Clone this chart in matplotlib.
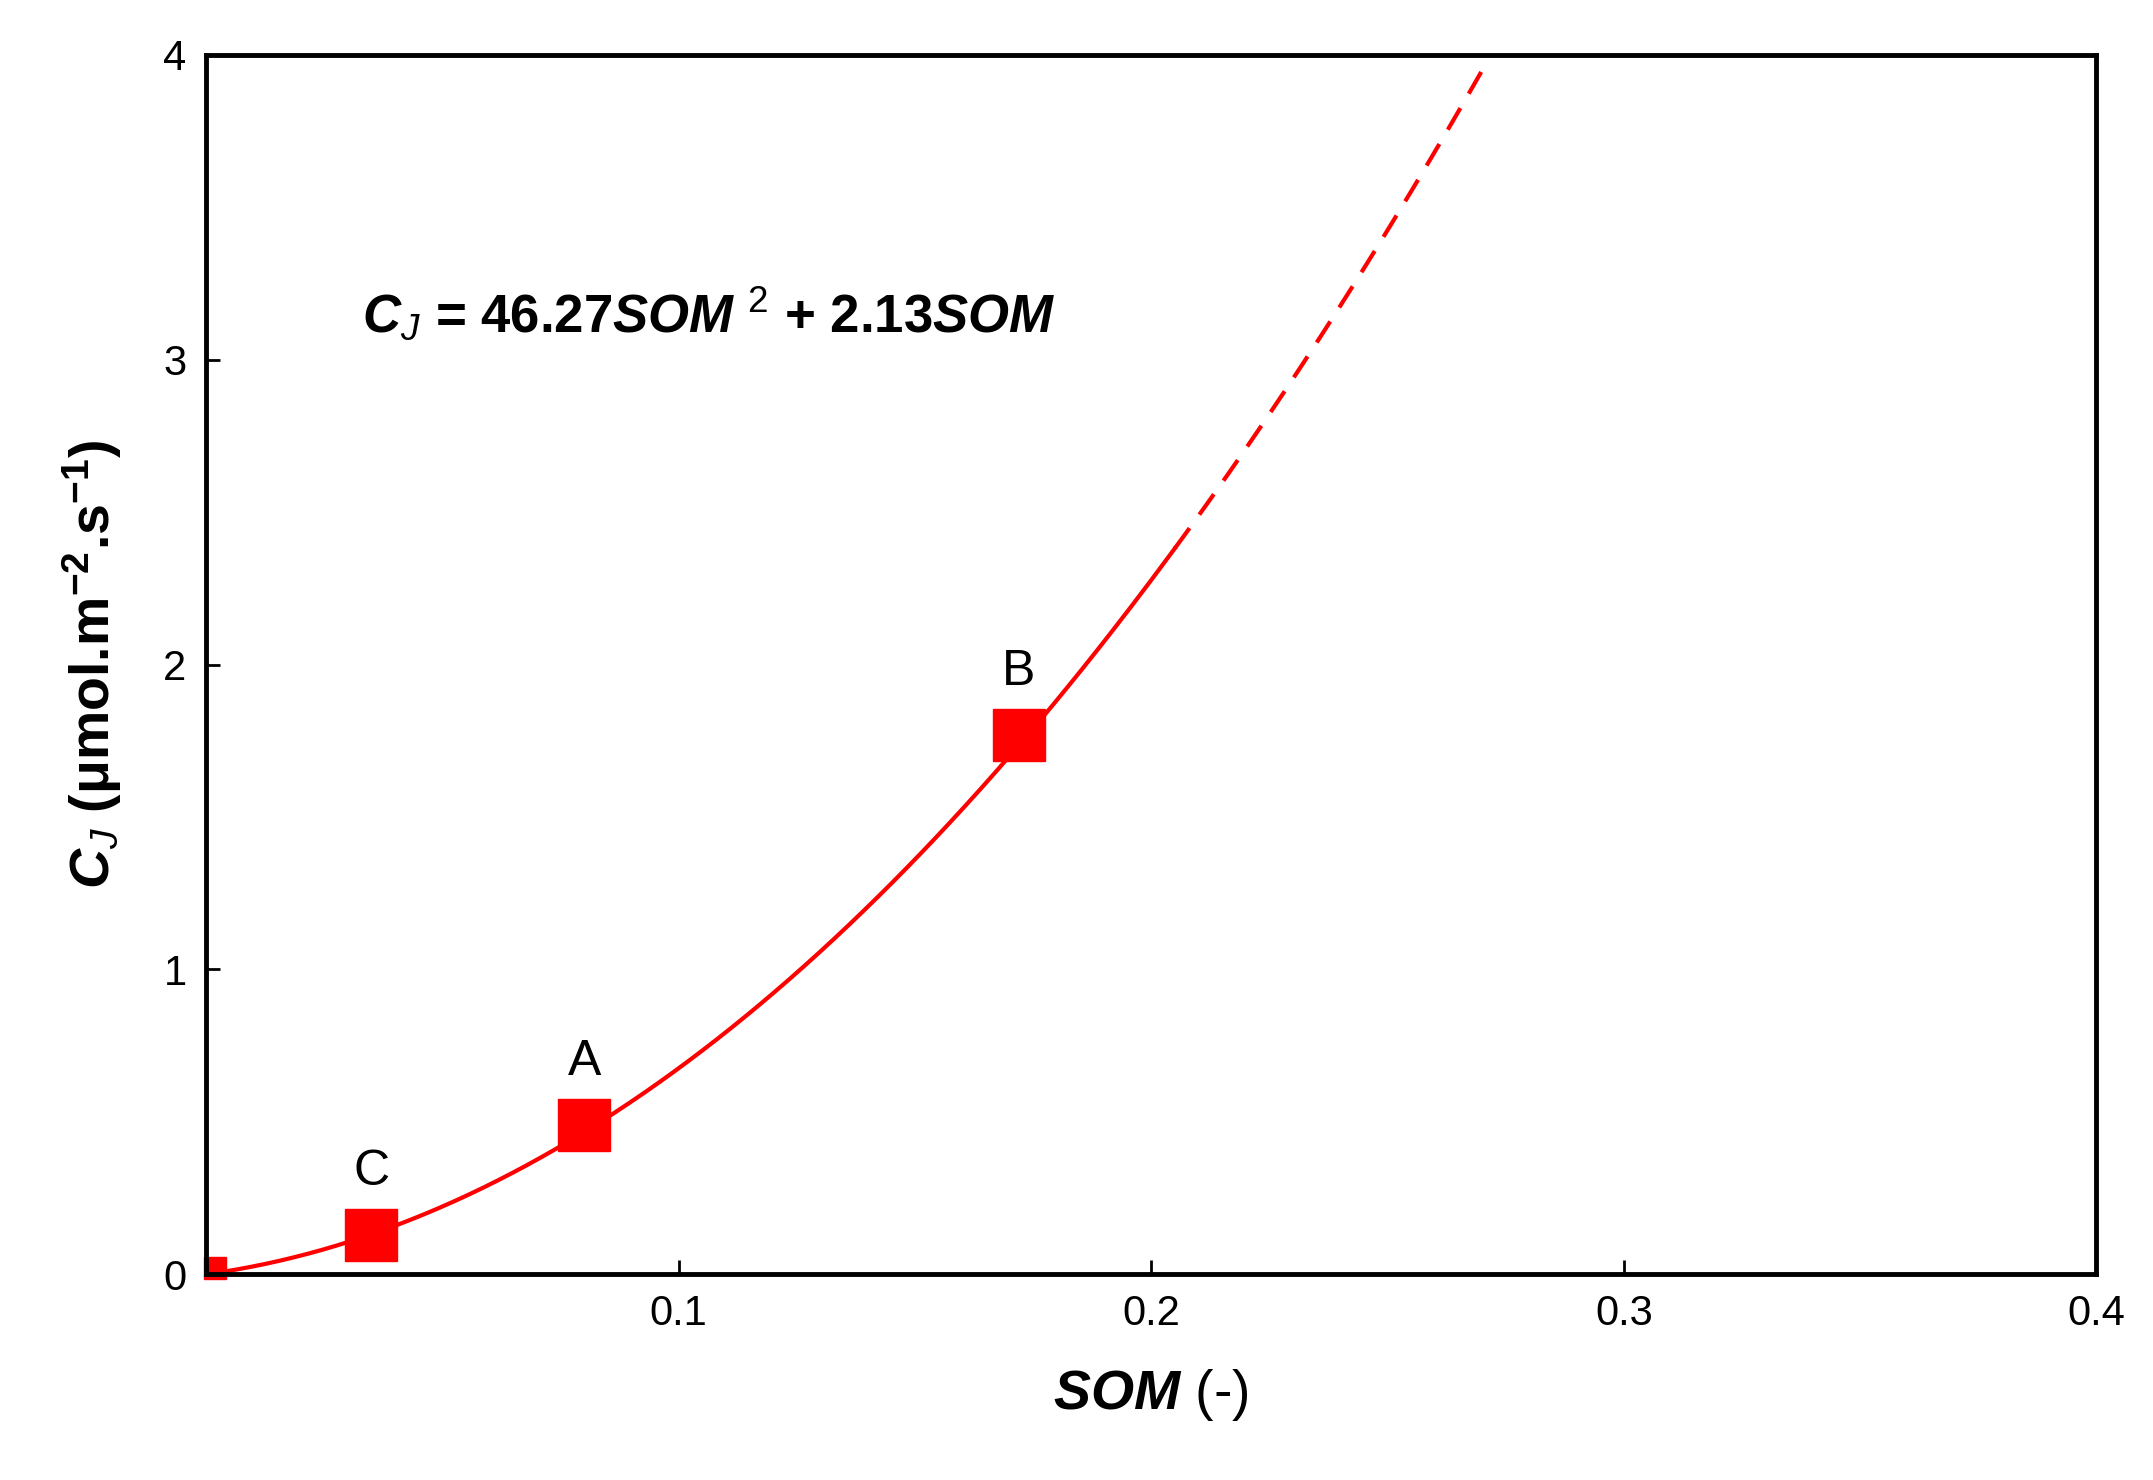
import numpy as np
import matplotlib.pyplot as plt

plt.rcParams['font.family'] = ['Liberation Sans', 'DejaVu Sans']
plt.rcParams['mathtext.fontset'] = 'custom'
plt.rcParams['mathtext.rm'] = 'Liberation Sans'
plt.rcParams['mathtext.it'] = 'Liberation Sans:italic'
plt.rcParams['mathtext.bf'] = 'Liberation Sans:bold'
plt.rcParams['mathtext.bfit'] = 'Liberation Sans:italic:bold'

# fitted equation coefficients
coef_a = 46.27
coef_b = 2.13

# measured points
pt_x = [0.035, 0.080, 0.172]
pt_y = [0.13, 0.49, 1.77]
pt_labels = ["C", "A", "B"]
origin_x = [0.002]
origin_y = [0.02]

x_solid = np.linspace(0, 0.205, 200)
x_dash = np.linspace(0.205, 0.271, 60)

fig = plt.figure(figsize=(21.53, 14.8), dpi=100)
ax = fig.add_axes([0.0957, 0.139, 0.878, 0.824])

ax.plot(x_solid, coef_a * x_solid**2 + coef_b * x_solid, color="red", lw=3)
ax.plot(x_dash, coef_a * x_dash**2 + coef_b * x_dash, color="red", lw=3,
        ls=(0, (6, 4)))
ax.plot(pt_x, pt_y, "s", color="red", ms=38, mec="red")
ax.plot(origin_x, origin_y, "s", color="red", ms=16, mec="red", clip_on=False)
for x, y, t in zip(pt_x, pt_y, pt_labels):
    ax.text(x, y + 0.13, t, ha="center", va="bottom", fontsize=36)

ax.text(0.033, 3.15, r"$\bfit{C}_{\it{J}}$ = 46.27$\bfit{SOM}$ $^{\rm 2}$ + 2.13$\bfit{SOM}$",
        fontsize=38, fontweight="bold", ha="left", va="center")

ax.set_xlim(0, 0.4)
ax.set_ylim(0, 4)
ax.set_xticks([0.1, 0.2, 0.3, 0.4])
ax.set_xticklabels(["0.1", "0.2", "0.3", "0.4"])
ax.set_yticks([0, 1, 2, 3, 4])
ax.tick_params(direction="in", length=10, width=2, labelsize=30, pad=14,
               top=False, right=False)
for s in ax.spines.values():
    s.set_linewidth(3.5)

ax.set_xlabel(r"$\bfit{SOM}$ (-)", fontsize=40, labelpad=24)
ax.set_ylabel(r"$\bfit{C}_{\it{J}}$ ($\mathbf{\mu}$mol.m$^{\mathbf{-2}}$.s$^{\mathbf{-1}}$)",
              fontsize=40, fontweight="bold", labelpad=28)

fig.savefig("out.png", dpi=100)
